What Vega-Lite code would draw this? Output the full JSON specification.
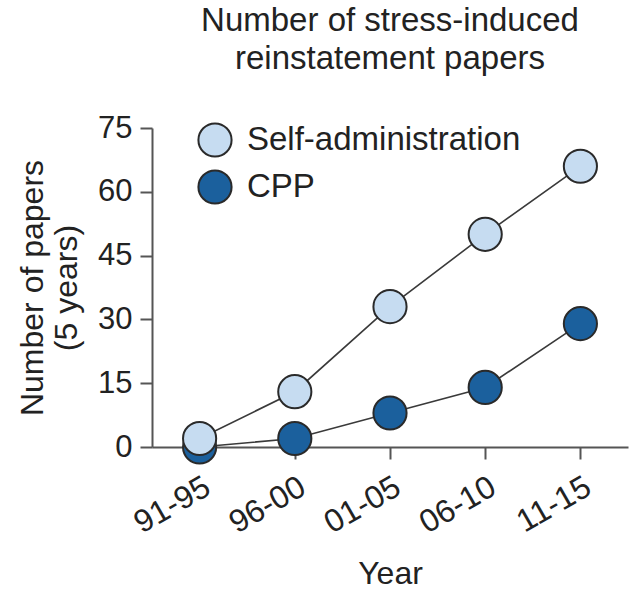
{
  "$schema": "https://vega.github.io/schema/vega-lite/v6.json",
  "width": 476,
  "height": 319,
  "autosize": {"type": "none"},
  "padding": {"left": 152, "top": 128, "right": 1, "bottom": 148},
  "background": "white",
  "title": {
    "text": ["Number of stress-induced", "reinstatement papers"],
    "fontSize": 33,
    "fontWeight": "normal",
    "font": "Liberation Sans",
    "color": "#222222",
    "lineHeight": 38,
    "anchor": "middle",
    "offset": 36
  },
  "data": {
    "values": [
      {"period": "91-95", "type": "CPP", "papers": 0},
      {"period": "96-00", "type": "CPP", "papers": 2},
      {"period": "01-05", "type": "CPP", "papers": 8},
      {"period": "06-10", "type": "CPP", "papers": 14},
      {"period": "11-15", "type": "CPP", "papers": 29},
      {"period": "91-95", "type": "Self-administration", "papers": 2},
      {"period": "96-00", "type": "Self-administration", "papers": 13},
      {"period": "01-05", "type": "Self-administration", "papers": 33},
      {"period": "06-10", "type": "Self-administration", "papers": 50},
      {"period": "11-15", "type": "Self-administration", "papers": 66}
    ]
  },
  "encoding": {
    "x": {
      "field": "period",
      "type": "ordinal",
      "sort": ["91-95", "96-00", "01-05", "06-10", "11-15"],
      "scale": {"type": "point", "padding": 0.5},
      "axis": {
        "title": "Year",
        "labelAngle": -30,
        "labelAlign": "right",
        "labelBaseline": "top",
        "labelPadding": 12,
        "labelFontSize": 32,
        "titlePadding": 20
      }
    },
    "y": {
      "field": "papers",
      "type": "quantitative",
      "scale": {"domain": [0, 75], "nice": false, "zero": true},
      "axis": {
        "title": ["Number of papers", "(5 years)"],
        "values": [0, 15, 30, 45, 60, 75],
        "grid": false,
        "labelPadding": 8,
        "titlePadding": 14
      }
    }
  },
  "layer": [
    {
      "mark": {"type": "line", "color": "#3a3a3a", "strokeWidth": 1.6},
      "encoding": {"detail": {"field": "type"}}
    },
    {
      "mark": {"type": "point", "filled": true, "shape": "circle", "size": 1100, "stroke": "#2a2a2a", "strokeWidth": 2, "opacity": 1},
      "encoding": {
        "fill": {
          "field": "type",
          "type": "nominal",
          "scale": {"domain": ["Self-administration", "CPP"], "range": ["#c6dcf1", "#1b609d"]},
          "legend": {
            "title": null,
            "orient": "none",
            "legendX": 45,
            "legendY": -6,
            "symbolType": "circle",
            "symbolSize": 1100,
            "symbolStrokeColor": "#2a2a2a",
            "symbolStrokeWidth": 2,
            "symbolOpacity": 1,
            "labelFontSize": 33,
            "labelFont": "Liberation Sans",
            "labelColor": "#222222",
            "labelOffset": 14,
            "rowPadding": 5,
            "labelLimit": 400
          }
        }
      }
    }
  ],
  "config": {
    "view": {"stroke": null},
    "axis": {
      "labelFont": "Liberation Sans",
      "titleFont": "Liberation Sans",
      "labelFontSize": 31,
      "titleFontSize": 32,
      "titleFontWeight": "normal",
      "labelColor": "#222222",
      "titleColor": "#222222",
      "domainColor": "#555555",
      "domainWidth": 2,
      "tickColor": "#555555",
      "tickWidth": 2,
      "tickSize": 12,
      "titleLineHeight": 34
    }
  }
}
